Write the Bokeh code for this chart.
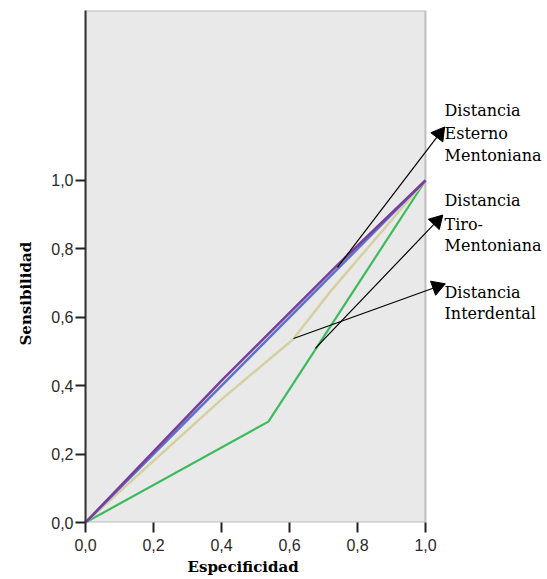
import math
from bokeh.plotting import figure
from bokeh.models import (Range1d, FixedTicker, CustomJSTickFormatter,
                          BoxAnnotation, Title)
from bokeh.core.properties import value
from bokeh.embed import file_html
from bokeh.resources import INLINE

# ---- data ----
spec_ref = [0.0, 1.0]
sens_ref = [0.0, 1.0]

spec_esterno = [0.0, 0.40, 0.74, 1.0]
sens_esterno = [0.0, 0.415, 0.752, 1.0]

spec_tiro = [0.0, 0.538, 1.0]
sens_tiro = [0.0, 0.295, 1.0]

spec_inter = [0.0, 0.40, 0.61, 0.72, 1.0]
sens_inter = [0.0, 0.36, 0.535, 0.675, 1.0]

ticks = [0.0, 0.2, 0.4, 0.6, 0.8, 1.0]

labels_esterno = ["Distancia", "Esterno", "Mentoniana"]
labels_tiro = ["Distancia", "Tiro-", "Mentoniana"]
labels_inter = ["Distancia", "Interdental"]

PX_X = 340.0   # pixels per unit on x
PX_Y = 342.0   # pixels per unit on y
X_END = 462.0 / PX_X
Y_END = 1.497

p = figure(width=547, height=579, output_backend="svg", toolbar_location=None,
           x_range=Range1d(0, X_END), y_range=Range1d(0, Y_END),
           min_border_left=85, min_border_right=0,
           min_border_top=10, min_border_bottom=57)

p.background_fill_color = "white"
p.border_fill_color = "white"
p.outline_line_color = None
p.grid.visible = False

# gray plotting area with its frame
p.add_layout(BoxAnnotation(left=0, right=1.0, bottom=0, top=Y_END,
                           fill_color="#e9e9e9", fill_alpha=1.0,
                           line_color="#444444", line_width=2, level="underlay"))

fmt = CustomJSTickFormatter(code="return tick.toFixed(1).replace('.', ',');")
for ax in (p.xaxis[0], p.yaxis[0]):
    ax.ticker = FixedTicker(ticks=ticks)
    ax.formatter = fmt
    ax.major_tick_line_color = "#222222"
    ax.major_tick_line_width = 2
    ax.major_tick_out = 10
    ax.major_tick_in = 0
    ax.minor_tick_line_color = None
    ax.major_label_text_font = "Liberation Sans"
    ax.major_label_text_font_size = "16px"
    ax.major_label_text_color = "#2a2a2a"
p.xaxis.axis_line_color = None
p.yaxis.axis_line_color = "#333333"
p.yaxis.axis_line_width = 2
p.xaxis.major_label_standoff = 6
p.yaxis.major_label_standoff = 2

p.line(spec_tiro, sens_tiro, line_color="#3dbb5c", line_width=2.2)
p.line(spec_inter, sens_inter, line_color="#d4d0a2", line_width=2.5)
p.line(spec_ref, sens_ref, line_color="#5b72c8", line_width=2.5)
p.line(spec_esterno, sens_esterno, line_color="#7a3d9c", line_width=2.5)

# annotation arrows (segment + triangular head)
arrows = [
    (0.741, 0.746, 1.053, 1.152),
    (0.676, 0.509, 1.047, 0.895),
    (0.612, 0.538, 1.053, 0.696),
]
HEAD = 15.0  # head length in pixels
xs0, ys0, xs1, ys1, hx, hy, ha = [], [], [], [], [], [], []
for x0, y0, x1, y1 in arrows:
    dxp, dyp = (x1 - x0) * PX_X, (y1 - y0) * PX_Y
    L = math.hypot(dxp, dyp)
    ux, uy = dxp / L, dyp / L
    back = HEAD * 0.45
    hx.append(x1 - ux * back / PX_X)
    hy.append(y1 - uy * back / PX_Y)
    ha.append(math.atan2(dyp, dxp) - math.pi / 2)
    xs0.append(x0); ys0.append(y0)
    xs1.append(x1 - ux * HEAD * 0.6 / PX_X); ys1.append(y1 - uy * HEAD * 0.6 / PX_Y)
p.segment(xs0, ys0, xs1, ys1, line_color="black", line_width=1.2)
p.scatter(hx, hy, marker="triangle", size=HEAD, angle=ha,
          fill_color="black", line_color="black")

tx, ty, tt = [], [], []
for lines, yy in ((labels_esterno, [1.205, 1.137, 1.073]),
                  (labels_tiro, [0.942, 0.870, 0.810]),
                  (labels_inter, [0.673, 0.611])):
    for t, y in zip(lines, yy):
        tx.append(1.056); ty.append(y); tt.append(t)
p.text(x=tx, y=ty, text=tt, text_font=value("DejaVu Serif"),
       text_font_size="16px", text_color="black",
       text_baseline="alphabetic", text_align="left")

p.add_layout(Title(text="Especificidad", text_font="DejaVu Serif",
                   text_font_style="bold", text_font_size="15px", text_color="black",
                   align="left", offset=102, standoff=4), "below")
p.add_layout(Title(text="Sensibilidad", text_font="DejaVu Serif",
                   text_font_style="bold", text_font_size="15px", text_color="black",
                   align="left", offset=177, standoff=27), "left")

open("out.html", "w").write(file_html(p, INLINE))
